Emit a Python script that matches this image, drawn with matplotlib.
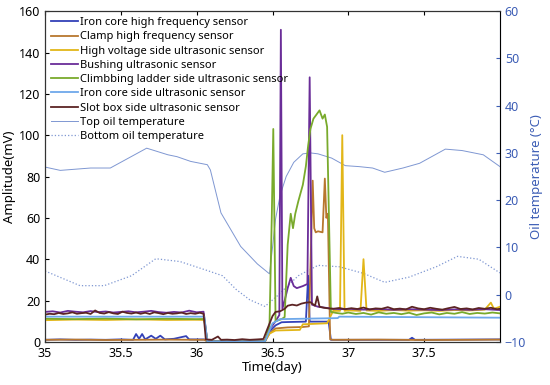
import numpy as np
import matplotlib
matplotlib.use('Agg')
import matplotlib.pyplot as plt

plt.rcParams['font.family'] = ['Noto Sans', 'DejaVu Sans']

# ---- sensor data (mV) ----
iron_hf_t = [35.00, 35.10, 35.20, 35.30, 35.40, 35.50, 35.58, 35.60, 35.62, 35.64, 35.66,
             35.70, 35.73, 35.76, 35.79, 35.85, 35.93, 35.95, 36.05, 36.07, 36.45, 36.48,
             36.52, 36.56, 36.60, 36.72, 36.735, 36.745, 36.87, 36.885, 37.40, 37.42,
             37.44, 38.00]
iron_hf_v = [1.0, 1.2, 1.0, 1.1, 1.0, 1.2, 1.0, 3.8, 1.5, 3.8, 1.2,
             3.0, 1.5, 3.0, 1.2, 1.5, 2.8, 1.2, 1.2, 0.3, 0.3, 5.0,
             8.0, 9.5, 9.6, 9.8, 32.0, 9.8, 9.8, 1.0, 1.0, 2.0,
             1.0, 1.2]

clamp_t = [35.00, 35.20, 35.40, 35.60, 35.80, 36.00, 36.05, 36.07, 36.45, 36.48, 36.52,
           36.60, 36.70, 36.74, 36.765, 36.775, 36.785, 36.80, 36.83, 36.845, 36.855,
           36.865, 36.88, 36.90, 37.20, 37.50, 37.80, 38.00]
clamp_v = [1.0, 1.1, 0.9, 1.0, 1.1, 1.0, 1.0, 0.3, 0.3, 4.0, 6.5,
           7.0, 7.2, 7.5, 78.0, 55.0, 53.0, 53.5, 53.0, 79.0, 60.0,
           62.0, 1.2, 1.0, 1.1, 0.9, 1.0, 1.1]

hv_t = [35.00, 35.20, 35.40, 35.60, 35.80, 36.00, 36.05, 36.07, 36.45, 36.48, 36.52,
        36.68, 36.70, 36.86, 36.90, 36.945, 36.96, 36.975, 37.00, 37.08, 37.10, 37.12,
        37.20, 37.30, 37.40, 37.50, 37.60, 37.70, 37.80, 37.90, 37.94, 37.96, 38.00]
hv_v = [10.5, 10.8, 10.6, 10.9, 10.6, 10.7, 10.6, 0.2, 0.2, 4.0, 5.5,
        5.8, 8.5, 9.0, 15.0, 15.0, 100.0, 15.0, 15.2, 15.0, 40.0, 15.2,
        15.0, 15.4, 15.1, 15.3, 15.0, 15.4, 15.2, 15.6, 19.0, 16.0, 17.0]

bush_t = [35.00, 35.05, 35.10, 35.15, 35.20, 35.25, 35.30, 35.35, 35.40, 35.45, 35.50,
          35.55, 35.60, 35.65, 35.70, 35.75, 35.80, 35.85, 35.90, 35.95, 36.00, 36.045,
          36.07, 36.45, 36.48, 36.52, 36.545, 36.555, 36.565, 36.58, 36.60, 36.62, 36.64,
          36.66, 36.70, 36.73, 36.745, 36.76, 36.80, 36.85, 36.90, 36.95, 37.00, 37.10,
          37.20, 37.30, 37.40, 37.50, 37.60, 37.70, 37.80, 37.90, 38.00]
bush_v = [14.5, 14.8, 14.2, 15.0, 14.6, 14.3, 14.9, 14.4, 14.7, 14.2, 14.5,
          14.8, 14.3, 14.6, 15.0, 14.4, 14.1, 14.5, 14.2, 15.1, 14.3, 14.6,
          0.3, 0.3, 6.0, 10.0, 13.0, 151.0, 16.0, 20.0, 26.0, 31.0, 27.0,
          26.0, 27.0, 28.0, 128.0, 18.0, 17.0, 16.5, 16.0, 15.8, 16.0, 15.6,
          15.9, 15.5, 15.8, 15.6, 15.4, 15.7, 15.5, 15.8, 15.4]

climb_t = [35.00, 35.20, 35.40, 35.60, 35.80, 36.00, 36.05, 36.07, 36.45, 36.48, 36.495,
           36.505, 36.52, 36.56, 36.58, 36.60, 36.62, 36.635, 36.65, 36.67, 36.70, 36.72,
           36.735, 36.75, 36.77, 36.79, 36.81, 36.83, 36.845, 36.86, 36.875, 36.885, 36.92,
           36.96, 37.00, 37.05, 37.10, 37.15, 37.20, 37.25, 37.30, 37.35, 37.40, 37.45,
           37.50, 37.55, 37.60, 37.65, 37.70, 37.75, 37.80, 37.85, 37.90, 37.95, 38.00]
climb_v = [11.2, 11.0, 11.3, 10.9, 11.2, 11.0, 11.1, 0.2, 0.2, 8.0, 60.0,
           103.0, 10.0, 11.0, 12.0, 47.0, 62.0, 55.0, 62.0, 68.0, 76.0, 85.0,
           95.0, 103.0, 108.0, 110.0, 112.0, 108.0, 110.0, 104.0, 50.0, 14.5, 14.0,
           13.6, 14.2, 13.5, 14.0, 13.2, 14.3, 13.6, 14.0, 13.4, 14.1, 13.0,
           13.8, 14.2, 13.3, 14.0, 13.6, 14.4, 13.5, 14.0, 13.7, 14.2, 13.8]

iron_side_t = [35.00, 36.05, 36.07, 36.45, 36.50, 36.55, 36.93, 36.94, 38.00]
iron_side_v = [12.2, 12.2, 0.2, 0.2, 9.0, 11.0, 11.5, 12.2, 11.7]

slot_t = [35.00, 35.03, 35.06, 35.09, 35.12, 35.15, 35.18, 35.21, 35.24, 35.27, 35.30,
          35.33, 35.36, 35.39, 35.42, 35.45, 35.48, 35.51, 35.54, 35.57, 35.60, 35.63,
          35.66, 35.69, 35.72, 35.75, 35.78, 35.81, 35.84, 35.87, 35.90, 35.93, 35.96,
          35.99, 36.02, 36.045, 36.06, 36.10, 36.14, 36.16, 36.20, 36.25, 36.30, 36.35,
          36.40, 36.44, 36.47, 36.50, 36.52, 36.55, 36.58, 36.60, 36.63, 36.66, 36.69,
          36.72, 36.75, 36.78, 36.795, 36.81, 36.84, 36.87, 36.90, 36.94, 36.98, 37.02,
          37.06, 37.10, 37.14, 37.18, 37.22, 37.26, 37.30, 37.34, 37.38, 37.42, 37.46,
          37.50, 37.54, 37.58, 37.62, 37.66, 37.70, 37.74, 37.78, 37.82, 37.86, 37.90,
          37.94, 37.98, 38.00]
slot_v = [13.2, 13.6, 13.4, 14.0, 13.5, 13.8, 14.3, 13.6, 13.9, 14.1, 13.5,
          15.2, 14.0, 13.7, 14.4, 13.8, 13.5, 14.6, 14.0, 13.7, 14.2, 13.6,
          14.1, 13.5, 14.3, 13.9, 13.4, 14.0, 13.6, 13.8, 14.2, 13.5, 13.9,
          13.6, 14.1, 13.6, 1.2, 1.0, 2.6, 1.0, 1.1, 0.9, 1.3, 1.0,
          1.2, 1.4, 7.0, 12.5, 14.5, 14.8, 16.0, 17.5, 18.0, 17.6, 18.5,
          19.0, 19.2, 17.5, 22.0, 17.0, 16.5, 16.2, 16.0, 16.4, 15.8, 16.3,
          15.9, 16.6, 15.7, 16.2, 16.0, 16.8, 15.8, 16.1, 15.7, 17.0, 16.2,
          15.8, 16.5, 16.0, 15.6, 16.3, 16.9, 15.9, 16.2, 15.7, 16.4, 16.0,
          16.5, 15.8, 16.0]

# ---- oil temperature (degC) ----
top_t = [35.00, 35.10, 35.30, 35.43, 35.67, 35.81, 35.87, 35.96, 36.07, 36.09, 36.16,
         36.29, 36.40, 36.48, 36.50, 36.52, 36.55, 36.59, 36.64, 36.70, 36.75, 36.80,
         36.89, 36.98, 37.07, 37.16, 37.24, 37.36, 37.47, 37.64, 37.75, 37.89, 38.00]
top_v = [27.0, 26.3, 26.8, 26.8, 31.0, 29.6, 29.2, 28.2, 27.5, 26.4, 17.3,
         10.2, 6.5, 4.4, 10.0, 16.0, 21.0, 25.0, 28.0, 29.8, 30.0, 29.8,
         28.9, 27.3, 27.1, 26.8, 25.9, 26.8, 27.8, 30.8, 30.5, 29.6, 27.1]

bot_t = [35.00, 35.23, 35.39, 35.57, 35.73, 35.89, 36.07, 36.17, 36.26, 36.35, 36.45,
         36.53, 36.67, 36.80, 36.94, 37.10, 37.24, 37.40, 37.58, 37.72, 37.86, 38.00]
bot_v = [5.0, 1.9, 1.9, 4.0, 7.6, 7.0, 5.1, 4.0, 1.1, -1.1, -2.5,
         -0.3, 4.0, 6.2, 5.9, 4.5, 2.6, 3.7, 5.9, 8.1, 7.5, 4.6]

labels = ['Iron core high frequency sensor', 'Clamp high frequency sensor',
          'High voltage side ultrasonic sensor', 'Bushing ultrasonic sensor',
          'Climbbing ladder side ultrasonic sensor', 'Iron core side ultrasonic sensor',
          'Slot box side ultrasonic sensor', 'Top oil temperature', 'Bottom oil temperature']

fig = plt.figure(figsize=(5.5, 3.85), dpi=100)
ax = fig.add_axes([0.082, 0.112, 0.827, 0.859])
ax2 = ax.twinx()
ax.set_zorder(ax2.get_zorder() + 1)
ax.patch.set_visible(False)

temp_col = '#7f97d2'
h_top, = ax2.plot(top_t, top_v, '-', color=temp_col, lw=0.7)
h_bot, = ax2.plot(bot_t, bot_v, ':', color=temp_col, lw=0.9)

lw = 1.3
hs = []
hs += ax.plot(iron_hf_t, iron_hf_v, color='#3341b8', lw=lw)
hs += ax.plot(clamp_t, clamp_v, color='#b8772e', lw=lw)
hs += ax.plot(hv_t, hv_v, color='#e2b618', lw=lw)
hs += ax.plot(bush_t, bush_v, color='#6a2d98', lw=lw)
hs += ax.plot(climb_t, climb_v, color='#79aa2c', lw=lw)
hs += ax.plot(iron_side_t, iron_side_v, color='#6ea8ea', lw=lw)
hs += ax.plot(slot_t, slot_v, color='#5c2424', lw=lw)
hs += [h_top, h_bot]

ax.set_xlim(35, 38)
ax.set_ylim(0, 160)
ax2.set_ylim(-10, 60)
ax.set_xticks([35, 35.5, 36, 36.5, 37, 37.5])
ax.set_xticklabels(['35', '35.5', '36', '36.5', '37', '37.5'])
ax.set_yticks(range(0, 161, 20))
ax2.set_yticks(range(-10, 61, 10))
ax.tick_params(direction='in', top=True, labelsize=9, length=3)
ax2.tick_params(direction='in', labelsize=9, length=3, colors='#3c5db5')
ax2.spines['right'].set_color('#9ab0e0')
for s in ['left', 'top', 'bottom']:
    ax.spines[s].set_color('#333333')
ax.set_xlabel('Time(day)', fontsize=9.5, labelpad=1)
ax.set_ylabel('Amplitude(mV)', fontsize=9.5, labelpad=2)
ax2.set_ylabel('Oil temperature (\u00b0C)', fontsize=9.5, color='#3c5db5', labelpad=3)

ax.legend(hs, labels, loc='upper left', frameon=False, fontsize=8, handlelength=2.4,
          handletextpad=0.2, labelspacing=0.29, borderaxespad=0.15)

fig.savefig('out.png', dpi=100)
